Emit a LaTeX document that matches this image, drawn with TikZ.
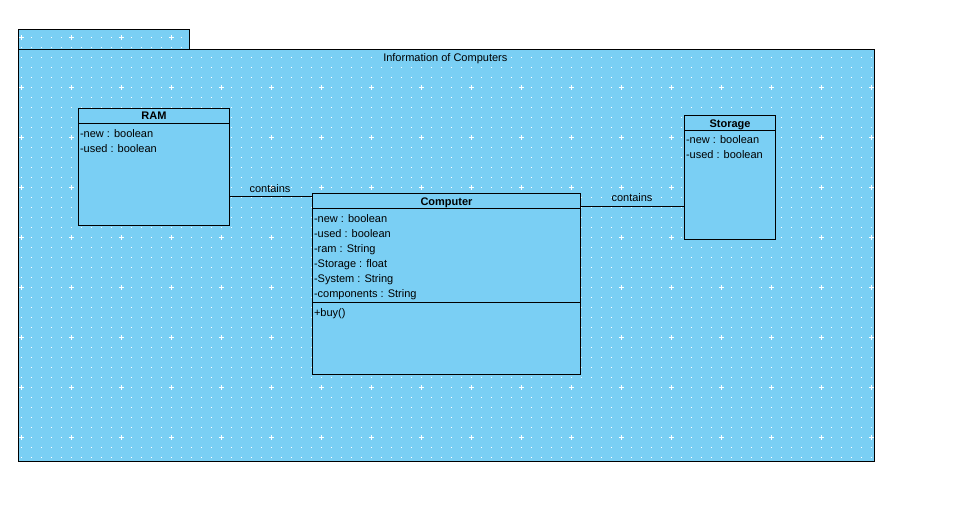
\documentclass[tikz,border=0pt]{standalone}
\usepackage{fontspec}
\setmainfont{Liberation Sans}
\definecolor{pkgblue}{RGB}{122,207,244}
\begin{document}
\begin{tikzpicture}[x=1pt,y=-1pt,
  every node/.style={font=\fontsize{11}{13}\selectfont, inner sep=0pt, outer sep=0pt},
  cls/.style={draw=black, fill=pkgblue, line width=1pt, anchor=north west, rectangle},
  attr/.style={anchor=base west},
  ttl/.style={anchor=base, font=\fontsize{11}{13}\selectfont\bfseries},
  lbl/.style={anchor=base},
  edge/.style={draw=black, line width=1pt}]
\useasboundingbox (0,0) rectangle (971,510);
\fill[white] (0,0) rectangle (971,510);
% package background
\fill[pkgblue] (18.5,29.5) rectangle (189.5,49.5);
\fill[pkgblue] (18.5,49.5) rectangle (874.5,461.5);
\begin{scope}
\clip (18.5,29.5) rectangle (189.5,50) (18.5,49.5) rectangle (874.5,461.5);
\foreach \x in {22,32,...,872}{
  \foreach \y in {37,47,...,457}{
    \fill[white] (\x-1,\y) rectangle +(1,1);
  }
}
\foreach \x in {22,72,...,872}{
  \foreach \y in {37,87,...,437}{
    \draw[white, line width=1pt] (\x-3,\y+0.5) -- (\x+2,\y+0.5) (\x-0.5,\y-2) -- (\x-0.5,\y+3);
  }
}
\end{scope}
\draw[line width=1pt] (18.5,29.5) rectangle (189.5,49.5);
\draw[line width=1pt] (18.5,49.5) rectangle (874.5,461.5);
\node[anchor=base, fill=pkgblue, inner xsep=2pt, inner ysep=1pt] (pkgtitle) at (445.3,61.5) {Information of Computers};

% RAM
\node[cls, minimum width=151pt, minimum height=117pt] (RAM) at (78.5,108.5) {};
\draw[line width=1pt] (RAM.north west) ++(0,15) -- ++(151,0);
\node[ttl] (ramt) at (154,120) {RAM};
\node[attr] (ram1) at (80,137.3) {-new : boolean};
\node[attr] (ram2) at (80,152.3) {-used : boolean};

% Computer
\node[cls, minimum width=268pt, minimum height=181pt] (Computer) at (312.5,193.5) {};
\draw[line width=1pt] (Computer.north west) ++(0,15) -- ++(268,0);
\draw[line width=1pt] (Computer.north west) ++(0,109) -- ++(268,0);
\node[ttl] (compt) at (446.5,205.3) {Computer};
\node[attr] (c1) at (314,222.3) {-new : boolean};
\node[attr] (c2) at (314,237.3) {-used : boolean};
\node[attr] (c3) at (314,252.3) {-ram : String};
\node[attr] (c4) at (314,267.3) {-Storage : float};
\node[attr] (c5) at (314,282.3) {-System : String};
\node[attr] (c6) at (314,297.3) {-components : String};
\node[attr] (m1) at (314,316.7) {+buy()};

% Storage
\node[cls, minimum width=91pt, minimum height=124pt] (Storage) at (684.5,115.5) {};
\draw[line width=1pt] (Storage.north west) ++(0,15) -- ++(91,0);
\node[ttl] (stt) at (730,127.3) {Storage};
\node[attr] (s1) at (686,144) {-new : boolean};
\node[attr] (s2) at (686,159) {-used : boolean};

% connectors
\coordinate (y1) at (0,196.5);
\coordinate (y2) at (0,206.5);
\draw[edge] (RAM.east |- y1) -- (Computer.west |- y1);
\draw[edge] (Computer.east |- y2) -- (Storage.west |- y2);
\node[lbl] (l1) at (270,192.3) {contains};
\node[lbl] (l2) at (632,201.7) {contains};
\end{tikzpicture}
\end{document}
